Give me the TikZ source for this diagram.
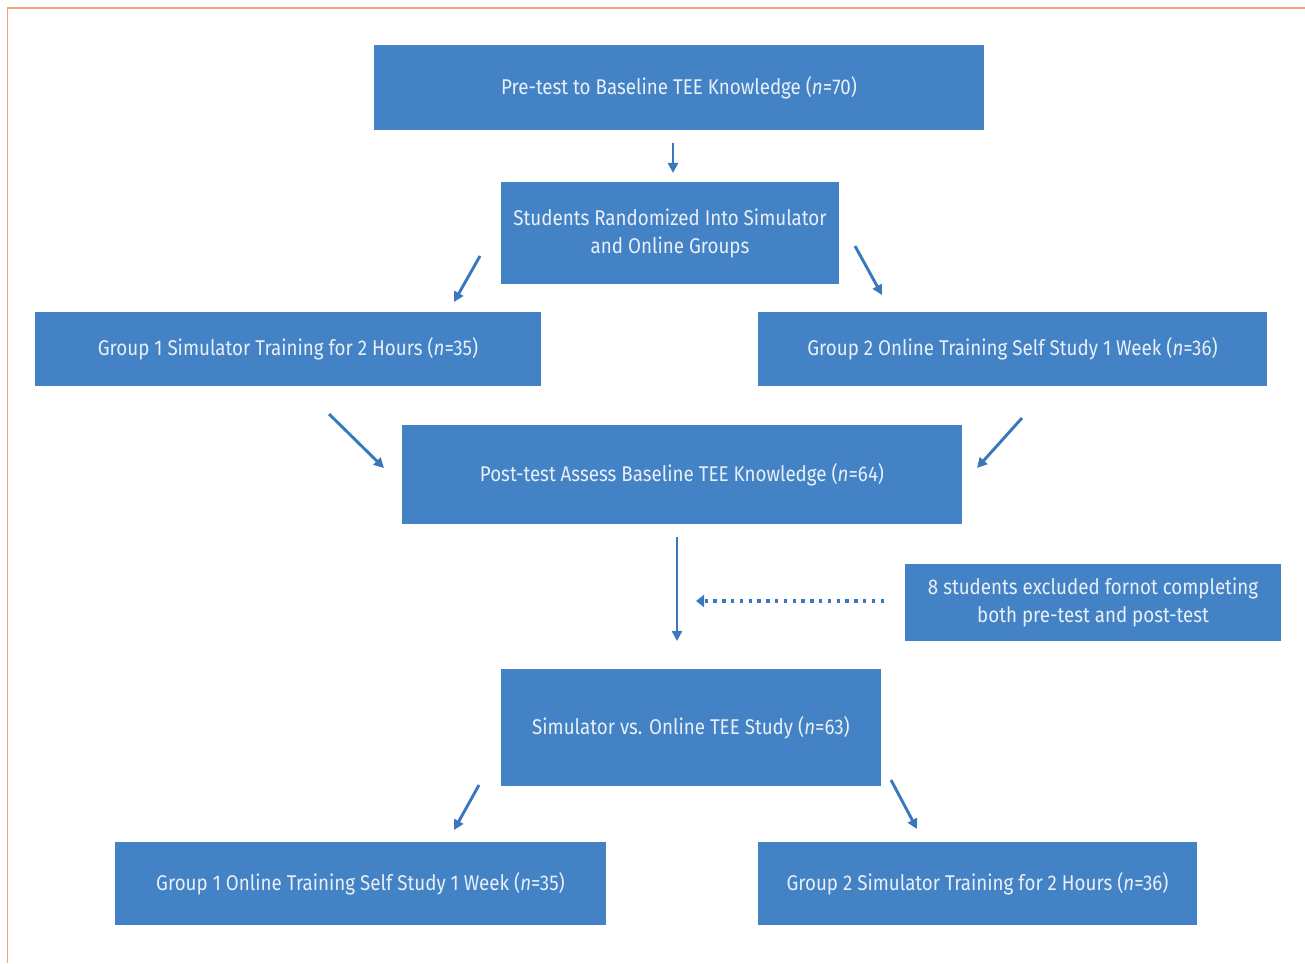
\documentclass[tikz,border=0pt]{standalone}
\usepackage{fontspec}
\setmainfont{Fira Sans}[FakeStretch=0.88]
\usetikzlibrary{arrows.meta}
\definecolor{boxblue}{RGB}{67,131,197}
\definecolor{arrblue}{RGB}{58,120,190}
\definecolor{frame}{RGB}{247,160,122}
\definecolor{txt}{RGB}{232,239,248}
\tikzset{
  box/.style={fill=boxblue, draw=none, text=txt, font=\fontsize{16}{21}\selectfont, align=center, inner sep=0pt},
  arr/.style={draw=arrblue, line width=2.2pt, -{Triangle[length=7.5pt,width=7.5pt]}},
  dotarr/.style={draw=arrblue, line width=3pt, dash pattern=on 2.6pt off 4pt, -{Triangle[length=6pt,width=9pt]}},
}
\begin{document}
\begin{tikzpicture}[x=0.75pt,y=-0.75pt]
\useasboundingbox (0,0) rectangle (1305,963);
\draw[frame, line width=1.2pt] (7.5,963) -- (7.5,8) -- (1305,8);
\node[box, minimum width=457.5pt, minimum height=63.75pt] (pre) at (679,87.5) {Pre-test to Baseline TEE Knowledge (\textit{n}=70)};
\node[box, minimum width=253.5pt, minimum height=76.5pt] (rand) at (670,233) {Students Randomized Into Simulator\\and Online Groups};
\node[box, minimum width=379.5pt, minimum height=55.5pt] (g1s) at (288,349) {Group 1 Simulator Training for 2 Hours (\textit{n}=35)};
\node[box, minimum width=381.75pt, minimum height=55.5pt] (g2o) at (1012.5,349) {Group 2 Online Training Self Study 1 Week (\textit{n}=36)};
\node[box, minimum width=420pt, minimum height=74.25pt] (post) at (682,474.5) {Post-test Assess Baseline TEE Knowledge (\textit{n}=64)};
\node[box, minimum width=282pt, minimum height=57.75pt] (excl) at (1093,602.5) {8 students excluded fornot completing\\both pre-test and post-test};
\node[box, minimum width=285pt, minimum height=87.75pt] (svo) at (691,727.5) {Simulator vs. Online TEE Study (\textit{n}=63)};
\node[box, minimum width=368.25pt, minimum height=62.25pt] (g1o) at (360.5,883.5) {Group 1 Online Training Self Study 1 Week (\textit{n}=35)};
\node[box, minimum width=329.25pt, minimum height=62.25pt] (g2s) at (977.5,883.5) {Group 2 Simulator Training for 2 Hours (\textit{n}=36)};
% free arrow ends
\coordinate (a1s) at (673,143); \coordinate (a1e) at (673,173);
\coordinate (a2s) at (480,256); \coordinate (a2e) at (454,302);
\coordinate (a3s) at (855,246); \coordinate (a3e) at (882,295);
\coordinate (a4s) at (329,414); \coordinate (a4e) at (384,468);
\coordinate (a5s) at (1022,418); \coordinate (a5e) at (977,468);
\coordinate (a6s) at (677,537); \coordinate (a6e) at (677,641);
\coordinate (a7s) at (884,601); \coordinate (a7e) at (696,601);
\coordinate (a8s) at (479,785); \coordinate (a8e) at (454,830);
\coordinate (a9s) at (891,780); \coordinate (a9e) at (917,829);
\draw[arr] (a1s) -- (a1e);
\draw[arr] (a2s) -- (a2e);
\draw[arr] (a3s) -- (a3e);
\draw[arr] (a4s) -- (a4e);
\draw[arr] (a5s) -- (a5e);
\draw[arr, line width=1.8pt] (a6s) -- (a6e);
\draw[dotarr] (a7s) -- (a7e);
\draw[arr] (a8s) -- (a8e);
\draw[arr] (a9s) -- (a9e);
\end{tikzpicture}
\end{document}
